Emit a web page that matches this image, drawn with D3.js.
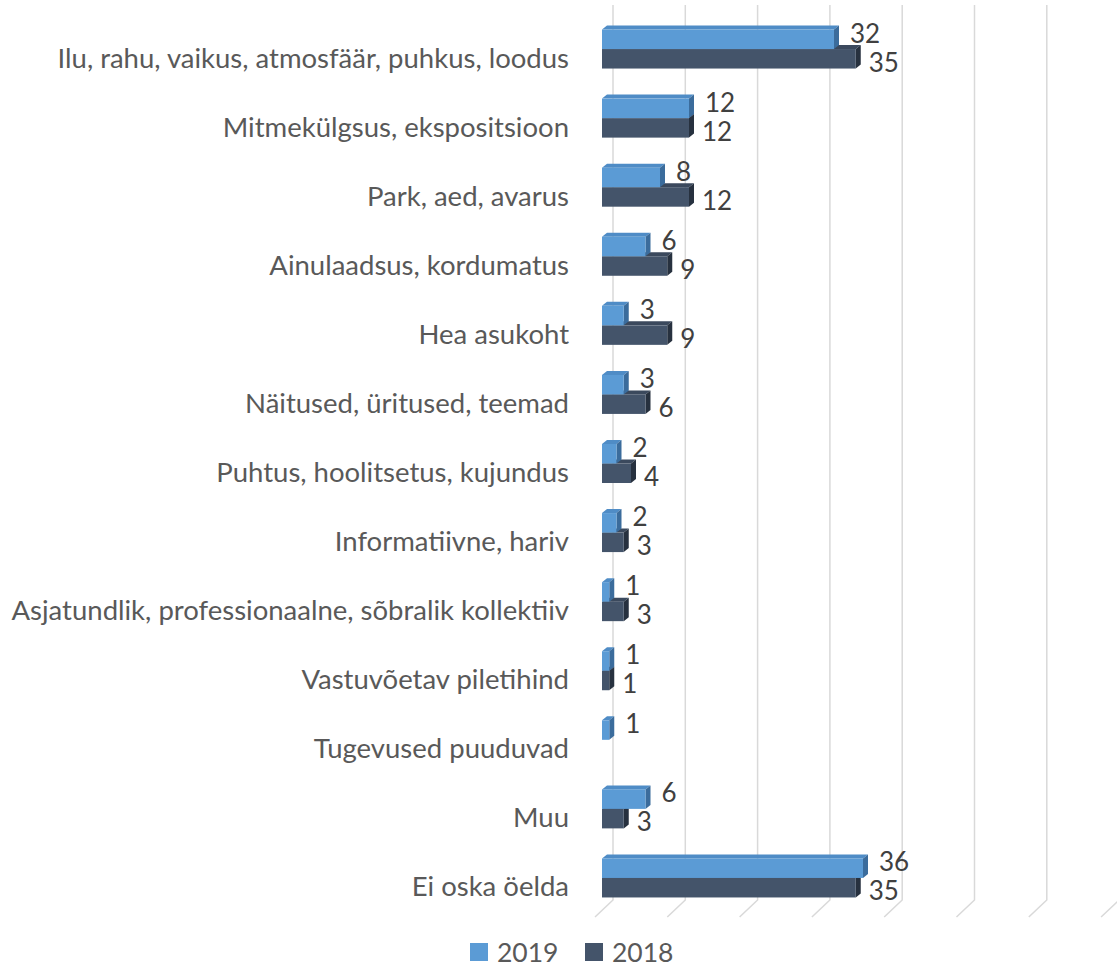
<!DOCTYPE html>
<html>
<head>
<meta charset="utf-8">
<script src="https://cdn.jsdelivr.net/npm/d3@7"></script>
<style>
  html, body { margin: 0; padding: 0; background: #ffffff; }
  svg { display: block; }
</style>
</head>
<body>
<svg id="chart" width="1117" height="968"></svg>
<script>
// Answers grouped by theme, two survey years
const categories = [
  "Ilu, rahu, vaikus, atmosfäär, puhkus, loodus",
  "Mitmekülgsus, ekspositsioon",
  "Park, aed, avarus",
  "Ainulaadsus, kordumatus",
  "Hea asukoht",
  "Näitused, üritused, teemad",
  "Puhtus, hoolitsetus, kujundus",
  "Informatiivne, hariv",
  "Asjatundlik, professionaalne, sõbralik kollektiiv",
  "Vastuvõetav piletihind",
  "Tugevused puuduvad",
  "Muu",
  "Ei oska öelda"
];
const values2019 = [32, 12, 8, 6, 3, 3, 2, 2, 1, 1, 1, 6, 36];
const values2018 = [35, 12, 12, 9, 9, 6, 4, 3, 3, 1, null, 3, 35];
const seriesNames = ["2019", "2018"];
const gridTicks = [0, 10, 20, 30, 40, 50, 60, 70];

const svg = d3.select("#chart");
const FONT = "Lato, 'Open Sans', sans-serif";

// Front plane of the bars and back wall of the 3D box
const x = d3.scaleLinear().domain([0, 70]).range([602, 602 + 70 * 7.25]);
const xWall = d3.scaleLinear().domain([0, 70]).range([613, 613 + 70 * 7.23]);
const y = d3.scaleBand().domain(categories).range([14.5, 912.5]).padding(0);
const barH = 19.5;
const depth = { dx: 5, dy: 4 };

const colors = {
  "2019": { front: "#5b9bd5", top: "#4f8cc6", side: "#3b6c9c" },
  "2018": { front: "#44546a", top: "#3b495d", side: "#27313f" }
};

// Gridlines on the back wall, bending onto the floor at the bottom
const grid = svg.append("g").attr("class", "grid");
const wallTop = 5, wallBottom = 900, floorDx = -18, floorDy = 17;
grid.selectAll("path")
  .data(gridTicks)
  .join("path")
  .attr("d", t => {
    const gx = xWall(t);
    return `M${gx},${wallTop}L${gx},${wallBottom}L${gx + floorDx},${wallBottom + floorDy}`;
  })
  .attr("fill", "none")
  .attr("stroke", "#d9d9d9")
  .attr("stroke-width", 1.5);

const center = c => y(c) + y.bandwidth() / 2;

// Draw one 3D box: top face, right side, front face
function box3d(g, x0, x1, yTop, h, col) {
  const { dx, dy } = depth;
  g.append("path")
    .attr("d", `M${x0},${yTop}L${x1},${yTop}L${x1 + dx},${yTop - dy}L${x0 + dx},${yTop - dy}Z`)
    .attr("fill", col.top);
  g.append("path")
    .attr("d", `M${x1},${yTop}L${x1 + dx},${yTop - dy}L${x1 + dx},${yTop + h - dy}L${x1},${yTop + h}Z`)
    .attr("fill", col.side);
  g.append("rect")
    .attr("x", x0).attr("y", yTop)
    .attr("width", Math.max(0, x1 - x0)).attr("height", h)
    .attr("fill", col.front);
}

const bars = svg.append("g").attr("class", "bars");

// 2018 sits below the 2019 bar; draw it first so the 2019 bar overlaps its top face
categories.forEach((c, i) => {
  const v = values2018[i];
  if (v == null) return;
  box3d(bars, x(0), x(v), center(c), barH, colors["2018"]);
});
categories.forEach((c, i) => {
  const v = values2019[i];
  if (v == null) return;
  box3d(bars, x(0), x(v), center(c) - barH, barH, colors["2019"]);
});

// Value labels
const labels = svg.append("g")
  .attr("font-family", FONT)
  .attr("font-size", 26)
  .attr("fill", "#404040");

labels.selectAll("text.v2019")
  .data(categories.map((c, i) => ({ c, v: values2019[i] })).filter(d => d.v != null))
  .join("text")
  .attr("class", "v2019")
  .attr("x", d => x(d.v) + 16)
  .attr("y", d => center(d.c) - barH + 3)
  .attr("dominant-baseline", "central")
  .text(d => d.v);

labels.selectAll("text.v2018")
  .data(categories.map((c, i) => ({ c, v: values2018[i] })).filter(d => d.v != null))
  .join("text")
  .attr("class", "v2018")
  .attr("x", d => x(d.v) + 13)
  .attr("y", d => center(d.c) + barH - 7)
  .attr("dominant-baseline", "central")
  .text(d => d.v);

// Category labels
svg.append("g")
  .attr("font-family", FONT)
  .attr("font-size", 27.5)
  .attr("fill", "#595959")
  .attr("text-anchor", "end")
  .selectAll("text")
  .data(categories)
  .join("text")
  .attr("x", 569)
  .attr("y", c => center(c) + 8)
  .attr("dominant-baseline", "central")
  .text(c => c);

// Legend
const legend = svg.append("g")
  .attr("font-family", FONT)
  .attr("font-size", 26.5)
  .attr("fill", "#595959");
const legendX = d3.scalePoint().domain(seriesNames).range([470, 585]);
const item = legend.selectAll("g")
  .data(seriesNames)
  .join("g")
  .attr("transform", s => `translate(${legendX(s)},943)`);
item.append("rect")
  .attr("width", 18).attr("height", 18)
  .attr("fill", s => colors[s].front);
item.append("text")
  .attr("x", 27).attr("y", 9)
  .attr("dominant-baseline", "central")
  .text(s => s);
</script>
</body>
</html>
